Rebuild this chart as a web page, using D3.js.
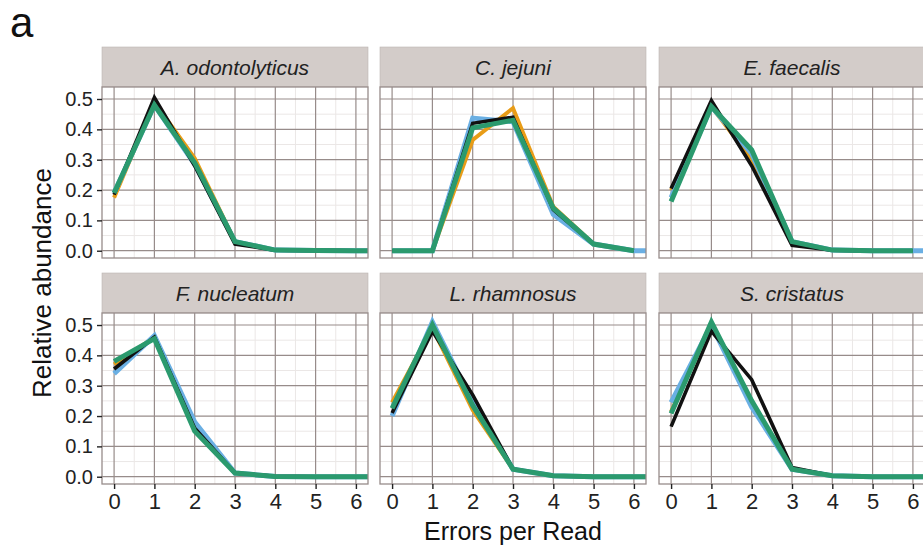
<!DOCTYPE html>
<html><head><meta charset="utf-8">
<script src="https://cdn.jsdelivr.net/npm/d3@7"></script>
<style>body{margin:0;background:#fff}svg{display:block;font-family:"Liberation Sans",Arial,sans-serif}</style>
</head><body><svg id="c" width="923" height="550"></svg>
<script>
const species = ["A. odontolyticus","C. jejuni","E. faecalis","F. nucleatum","L. rhamnosus","S. cristatus"];
const errors = [0,1,2,3,4,5,6,7];
const xTicks = [0,1,2,3,4,5,6];
const yTicks = [0,0.1,0.2,0.3,0.4,0.5];
const seriesNames = ["orange","blue","black","green"];
const seriesColors = ["#e89c17","#6aafe3","#111111","#2b9a6e"];
const seriesWidths = [4,5,3.6,5];
// values per species, index = errors per read
const orangeVals = [
  [0.175,0.49,0.305,0.03,0.002,0.001,0,0],
  [0,0,0.365,0.47,0.145,0.022,0,null],
  [0.2,0.475,0.3,0.028,0.002,0,0,null],
  [0.37,0.46,0.155,0.012,0.001,0,0,0],
  [0.245,0.49,0.22,0.025,0.003,0,0,0],
  [0.215,0.5,0.24,0.025,0.003,0,0,0]
];
const blueVals = [
  [0.19,0.48,0.285,0.03,0.002,0.001,0,0],
  [0,0,0.437,0.425,0.12,0.022,0,0],
  [0.175,0.475,0.32,0.03,0.002,0,0,0],
  [0.34,0.465,0.18,0.012,0.001,0,0,0],
  [0.2,0.51,0.245,0.025,0.003,0,0,0],
  [0.245,0.5,0.23,0.025,0.003,0,0,0]
];
const blackVals = [
  [0.185,0.505,0.28,0.022,0.002,0.001,0,0],
  [0,0,0.42,0.44,0.135,0.022,0,null],
  [0.205,0.495,0.28,0.018,0.002,0,0,null],
  [0.355,0.46,0.16,0.012,0.001,0,0,0],
  [0.21,0.48,0.27,0.025,0.003,0,0,0],
  [0.165,0.48,0.32,0.03,0.003,0,0,0]
];
const greenVals = [
  [0.19,0.48,0.29,0.03,0.002,0.001,0,0],
  [0,0,0.405,0.43,0.14,0.022,0,null],
  [0.162,0.475,0.332,0.03,0.002,0,0,null],
  [0.38,0.455,0.15,0.012,0.001,0,0,0],
  [0.225,0.5,0.235,0.025,0.003,0,0,0],
  [0.208,0.51,0.25,0.025,0.003,0,0,0]
];
const allVals = [orangeVals, blueVals, blackVals, greenVals];

const svg = d3.select("#c");
const panelW = 266, panelH = 171, stripH = 40;
const colX = [102, 380, 659];
const rowY = [87, 313];
const gridMajor = "#978c8a", gridMinor = "#ebe7e6", stripFill = "#d3ccc9";

const x = d3.scaleLinear().domain([-0.3, 6.3]).range([0, panelW]);
const y = d3.scaleLinear().domain([-0.024, 0.5396]).range([panelH, 0]);

svg.append("text").attr("x", 10).attr("y", 37).attr("font-size", 42).attr("fill", "#111").text("a");

const defs = svg.append("defs");
defs.append("clipPath").attr("id", "clip").append("rect").attr("width", panelW).attr("height", panelH);

species.forEach((sp, i) => {
  const col = i % 3, row = Math.floor(i / 3);
  const g = svg.append("g").attr("transform", `translate(${colX[col]},${rowY[row]})`);
  // strip
  g.append("rect").attr("x", 0).attr("y", -stripH).attr("width", panelW).attr("height", stripH)
    .attr("fill", stripFill).attr("stroke", "#bdb5b2").attr("stroke-width", 0.6);
  g.append("text").attr("x", panelW / 2).attr("y", -stripH / 2 + 7.5).attr("text-anchor", "middle")
    .attr("font-size", 21).attr("font-style", "italic").attr("fill", "#222").text(sp);
  g.append("rect").attr("width", panelW).attr("height", panelH).attr("fill", "#fff");
  // minor grid
  const minorX = d3.range(-0.5, 7, 1).filter(v => v > -0.3 && v < 6.3);
  const minorY = [0.05,0.15,0.25,0.35,0.45];
  g.selectAll(".mx").data(minorX).join("line").attr("x1", d => x(d)).attr("x2", d => x(d))
    .attr("y1", 0).attr("y2", panelH).attr("stroke", gridMinor).attr("stroke-width", 1);
  g.selectAll(".my").data(minorY).join("line").attr("y1", d => y(d)).attr("y2", d => y(d))
    .attr("x1", 0).attr("x2", panelW).attr("stroke", gridMinor).attr("stroke-width", 1);
  g.selectAll(".gx").data(xTicks).join("line").attr("x1", d => x(d)).attr("x2", d => x(d))
    .attr("y1", 0).attr("y2", panelH).attr("stroke", gridMajor).attr("stroke-width", 1.2);
  g.selectAll(".gy").data(yTicks).join("line").attr("y1", d => y(d)).attr("y2", d => y(d))
    .attr("x1", 0).attr("x2", panelW).attr("stroke", gridMajor).attr("stroke-width", 1.2);
  // lines
  const lg = g.append("g").attr("clip-path", "url(#clip)");
  const line = d3.line().defined(d => d[1] != null).x(d => x(d[0])).y(d => y(d[1]));
  allVals.forEach((sv, k) => {
    const pts = errors.map((e, j) => [e, sv[i][j]]);
    lg.append("path").attr("d", line(pts)).attr("fill", "none")
      .attr("stroke", seriesColors[k]).attr("stroke-width", seriesWidths[k])
      .attr("stroke-linejoin", "miter").attr("stroke-miterlimit", 4);
  });
  g.append("rect").attr("width", panelW).attr("height", panelH).attr("fill", "none")
    .attr("stroke", gridMajor).attr("stroke-width", 1.3);
  // axes
  if (col === 0) {
    const ya = g.append("g").call(d3.axisLeft(y).tickValues(yTicks).tickFormat(d3.format(".1f")).tickSize(5).tickPadding(4));
    ya.select(".domain").remove();
    ya.selectAll("line").attr("stroke", "#222").attr("stroke-width", 1.4);
    ya.selectAll("text").attr("font-size", 20).attr("fill", "#222").attr("font-family", "Liberation Sans, Arial, sans-serif");
  }
  if (row === 1) {
    const xa = g.append("g").attr("transform", `translate(0,${panelH})`)
      .call(d3.axisBottom(x).tickValues(xTicks).tickFormat(d3.format("d")).tickSize(5).tickPadding(4));
    xa.select(".domain").remove();
    xa.selectAll("line").attr("stroke", "#222").attr("stroke-width", 1.4);
    xa.selectAll("text").attr("font-size", 22).attr("fill", "#222").attr("font-family", "Liberation Sans, Arial, sans-serif");
  }
});

svg.append("text").attr("x", 513).attr("y", 540).attr("text-anchor", "middle")
  .attr("font-size", 25).attr("fill", "#111").text("Errors per Read");
svg.append("text").attr("transform", "translate(51,283) rotate(-90)").attr("text-anchor", "middle")
  .attr("font-size", 26).attr("fill", "#111").text("Relative abundance");
</script></body></html>
